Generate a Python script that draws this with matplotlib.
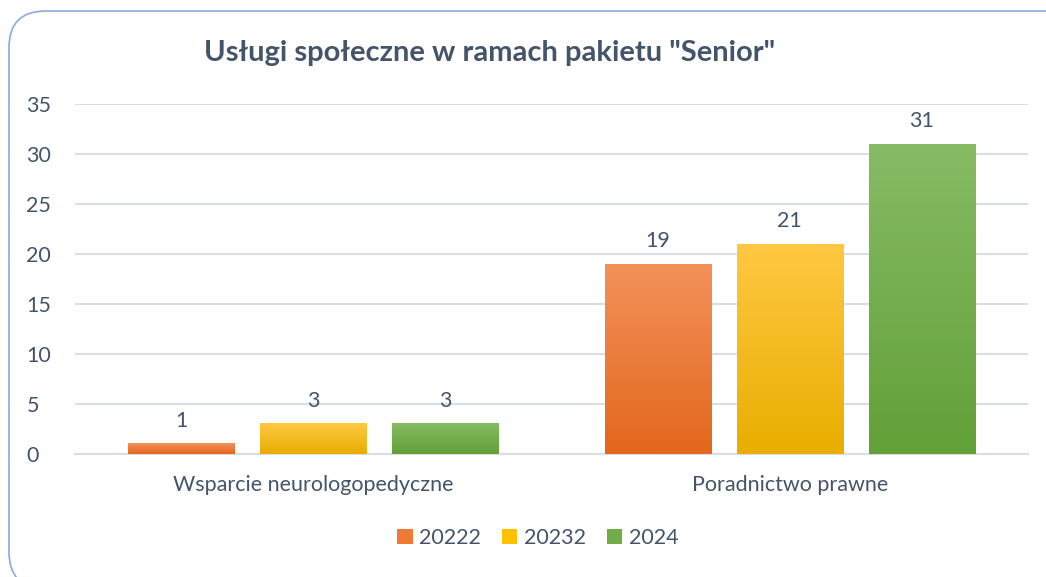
import numpy as np
import matplotlib.pyplot as plt
from matplotlib.colors import LinearSegmentedColormap
from matplotlib.patches import FancyBboxPatch, Patch

plt.rcParams['font.family'] = ['Lato', 'DejaVu Sans']

# Data
categories = ['Wsparcie neurologopedyczne', 'Poradnictwo prawne']
series_names = ['20222', '20232', '2024']
values_2022 = [1, 19]
values_2023 = [3, 21]
values_2024 = [3, 31]
series_values = [values_2022, values_2023, values_2024]

# gradient colours (top, bottom) per series
grad = [('#F3915A', '#E3671C'), ('#FFC842', '#E8AE00'), ('#86BB64', '#62A038')]
legend_colors = ['#EE7A35', '#FFC000', '#70AD47']
text_color = '#44546A'
fs = 15.5

fig = plt.figure(figsize=(10.46, 5.77), dpi=100)
ax = fig.add_axes([75 / 1046, 1 - 454 / 577, (1028 - 75) / 1046, 350 / 577])

x = np.arange(len(categories))
width = 0.223
step = 0.277
for i, (vals, (top, bot)) in enumerate(zip(series_values, grad)):
    cmap = LinearSegmentedColormap.from_list('g%d' % i, [bot, top])
    offs = x + (i - 1) * step
    for xc, v in zip(offs, vals):
        img = np.linspace(0, 1, 100).reshape(-1, 1)
        ax.imshow(img, cmap=cmap, origin='lower', aspect='auto',
                  extent=[xc - width / 2, xc + width / 2, 0, v], zorder=3)
        ax.text(xc, v + 1.3, str(v), ha='center', va='bottom',
                fontsize=fs, color=text_color)

ax.set_xlim(-0.5, 1.5)
ax.set_ylim(0, 35)
ax.set_yticks(range(0, 36, 5))
ax.set_xticks(x)
ax.set_xticklabels(categories)
ax.grid(axis='y', color='#D9DEE6', lw=1.5, zorder=0)
ax.set_axisbelow(True)
for s in ['top', 'right', 'left']:
    ax.spines[s].set_visible(False)
ax.spines['bottom'].set_color('#D9DEE6')
ax.spines['bottom'].set_linewidth(1.5)
ax.tick_params(axis='both', length=0, labelsize=fs, labelcolor=text_color)
ax.tick_params(axis='x', pad=15)
for lab in ax.get_yticklabels():
    lab.set_horizontalalignment('left')
ax.yaxis.set_tick_params(pad=35)

fig.text(490 / 1046, 1 - 53 / 577, 'Usługi społeczne w ramach pakietu "Senior"',
         ha='center', va='center', fontsize=21, fontweight='bold', color=text_color)

handles = [Patch(facecolor=c) for c in legend_colors]
fig.legend(handles, series_names, loc='center', bbox_to_anchor=(538 / 1046, 1 - 538 / 577),
           ncol=3, frameon=False, fontsize=fs, labelcolor=text_color,
           handlelength=0.7, handleheight=0.7, handletextpad=0.3, columnspacing=1.0)

border = FancyBboxPatch((9 / 1046, -0.02), 1.05, 1 - 11 / 577 + 0.02,
                        boxstyle='round,pad=0,rounding_size=0.035',
                        transform=fig.transFigure, fill=False,
                        edgecolor='#8EA9DB', lw=1.2, mutation_aspect=1046 / 577)
fig.patches.append(border)

fig.savefig('out.png', dpi=100)
